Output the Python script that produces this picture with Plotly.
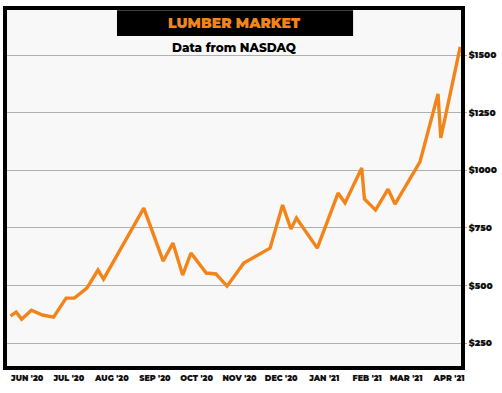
import plotly.graph_objects as go

dates = ["2020-05-20", "2020-05-24", "2020-05-28", "2020-06-04", "2020-06-12", "2020-06-20",
         "2020-06-29", "2020-07-05", "2020-07-14", "2020-07-22", "2020-07-26", "2020-08-24",
         "2020-09-07", "2020-09-14", "2020-09-21", "2020-09-27", "2020-10-08", "2020-10-15",
         "2020-10-23", "2020-11-04", "2020-11-23", "2020-12-02", "2020-12-08", "2020-12-12",
         "2020-12-27", "2021-01-11", "2021-01-16", "2021-01-28", "2021-01-30", "2021-02-07",
         "2021-02-16", "2021-02-21", "2021-03-11", "2021-03-24", "2021-03-26", "2021-04-09"]
prices = [367, 385, 354, 393, 372, 363,
          445, 445, 489, 567, 528, 836,
          606, 684, 545, 641, 554, 550,
          497, 597, 662, 849, 745, 793,
          662, 901, 858, 1010, 875, 827,
          918, 853, 1036, 1331, 1140, 1535]

month_ticks = ["2020-06-01", "2020-07-01", "2020-08-01", "2020-09-01", "2020-10-01", "2020-11-01",
               "2020-12-01", "2021-01-01", "2021-02-01", "2021-03-01", "2021-04-01"]
month_labels = ["JUN '20", "JUL '20", "AUG '20", "SEP '20", "OCT '20", "NOV '20",
                "DEC '20", "JAN '21", "FEB '21", "MAR '21", "APR '21"]
price_ticks = [250, 500, 750, 1000, 1250, 1500]
price_labels = ["$250", "$500", "$750", "$1000", "$1250", "$1500"]

title_text = "LUMBER MARKET"
subtitle_text = "Data from NASDAQ"

ORANGE = "#F3841A"
FONT = "Montserrat, Lato, 'Open Sans', sans-serif"

fig = go.Figure()
fig.add_trace(go.Scatter(
    x=dates, y=prices, mode="lines",
    line=dict(color=ORANGE, width=3.4),
    hoverinfo="skip", showlegend=False,
))

fig.update_layout(
    width=502, height=393,
    margin=dict(l=5, r=39, t=8, b=25),
    paper_bgcolor="#ffffff",
    plot_bgcolor="#f8f8f8",
    xaxis=dict(
        range=["2020-05-16", "2021-04-11"],
        tickvals=month_ticks, ticktext=month_labels,
        showgrid=False, zeroline=False, ticks="",
        tickfont=dict(family=FONT, size=8, color="#111", weight=900),
        ticklabelstandoff=4,
    ),
    yaxis=dict(
        side="right",
        range=[142, 1704],
        tickvals=price_ticks, ticktext=price_labels,
        showgrid=True, gridcolor="#b0b0b0", gridwidth=1,
        zeroline=False, ticks="outside", ticklen=3, tickcolor="#b0b0b0",
        tickfont=dict(family=FONT, size=9, color="#111", weight=900),
    ),
    shapes=[
        dict(type="rect", xref="paper", yref="paper", x0=0, x1=1, y0=0, y1=1,
             line=dict(color="#000", width=4), fillcolor="rgba(0,0,0,0)", layer="above"),
        dict(type="rect", xref="paper", yref="paper", x0=0.2445, x1=0.760, y0=0.922, y1=0.994,
             line=dict(width=0), fillcolor="#000", layer="above"),
    ],
    annotations=[
        dict(text=title_text, xref="paper", yref="paper", x=0.502, y=0.958,
             showarrow=False, xanchor="center", yanchor="middle",
             font=dict(family=FONT, size=14, color=ORANGE, weight=900)),
        dict(text=subtitle_text, xref="paper", yref="paper", x=0.502, y=0.891,
             showarrow=False, xanchor="center", yanchor="middle",
             font=dict(family=FONT, size=12, color="#000", weight=800)),
    ],
)

fig.write_html("out.html", config={"displayModeBar": False},
               post_script="document.body.style.margin='0';")
